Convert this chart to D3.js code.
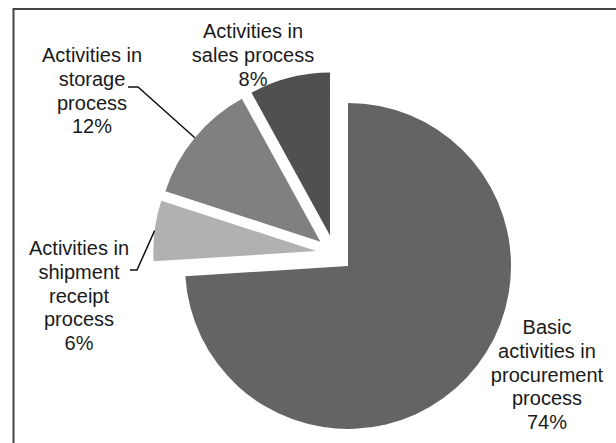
<!DOCTYPE html>
<html>
<head>
<meta charset="utf-8">
<script src="https://cdn.jsdelivr.net/npm/d3@7"></script>
<style>
  body { margin: 0; background: #fff; }
  svg text { font-family: "Liberation Sans", Arial, sans-serif; font-size: 20px; fill: #1a1a1a; }
</style>
</head>
<body>
<svg id="chart" width="616" height="443"></svg>
<script>
// data
var categories = [
  "Basic activities in procurement process",
  "Activities in shipment receipt process",
  "Activities in storage process",
  "Activities in sales process"
];
var shares = [74, 6, 12, 8];
var labelLines = [
  ["Basic", "activities in", "procurement", "process", "74%"],
  ["Activities in", "shipment", "receipt", "process", "6%"],
  ["Activities in", "storage", "process", "12%"],
  ["Activities in", "sales process", "8%"]
];
var sliceColors = ["#646464", "#b1b1b1", "#808080", "#505050"];

// layout
var center = [334.6, 253.4];
var radius = 163;
var explode = 18.4;
var lineH = 23.8;
// label anchor (centre x, first baseline) and leader elbow (x0, x1, y) or null
var labelAt = [
  { x: 547, y: 334, leader: null },
  { x: 79, y: 255, leader: [130, 137, 270] },
  { x: 92, y: 62, leader: [128, 138, 87] },
  { x: 253, y: 38, leader: null }
];

var svg = d3.select('#chart');

// frame (runs off right and bottom)
svg.append('rect')
  .attr('x', 13.5).attr('y', 9)
  .attr('width', 640).attr('height', 460)
  .attr('fill', 'none')
  .attr('stroke', '#444')
  .attr('stroke-width', 2);

var pie = d3.pie().sort(null).value(function (d) { return d; });
var arcs = pie(shares);

var arc = d3.arc().innerRadius(0).outerRadius(radius);

var offset = function (d, r) {
  var m = (d.startAngle + d.endAngle) / 2;
  return [Math.sin(m) * r, -Math.cos(m) * r];
};

var g = svg.append('g')
  .attr('transform', 'translate(' + center[0] + ',' + center[1] + ')');

g.selectAll('path.slice')
  .data(arcs)
  .enter().append('path')
    .attr('class', 'slice')
    .attr('d', arc)
    .attr('fill', function (d, i) { return sliceColors[i]; })
    .attr('transform', function (d) {
      var o = offset(d, explode);
      return 'translate(' + o[0] + ',' + o[1] + ')';
    });

// leader lines, end at outer arc midpoint of the slice
arcs.forEach(function (d, i) {
  var lp = labelAt[i].leader;
  if (!lp) return;
  var o = offset(d, explode);
  var e = offset(d, radius);
  var ex = center[0] + o[0] + e[0], ey = center[1] + o[1] + e[1];
  svg.append('path')
    .attr('d', 'M' + lp[0] + ',' + lp[2] + 'L' + lp[1] + ',' + lp[2] + 'L' + ex + ',' + ey)
    .attr('fill', 'none')
    .attr('stroke', '#111')
    .attr('stroke-width', 1.5);
});

// labels
labelLines.forEach(function (lines, i) {
  var t = svg.append('text')
    .attr('text-anchor', 'middle');
  lines.forEach(function (s, k) {
    t.append('tspan')
      .attr('x', labelAt[i].x)
      .attr('y', labelAt[i].y + k * lineH)
      .text(s);
  });
});
</script>
</body>
</html>
